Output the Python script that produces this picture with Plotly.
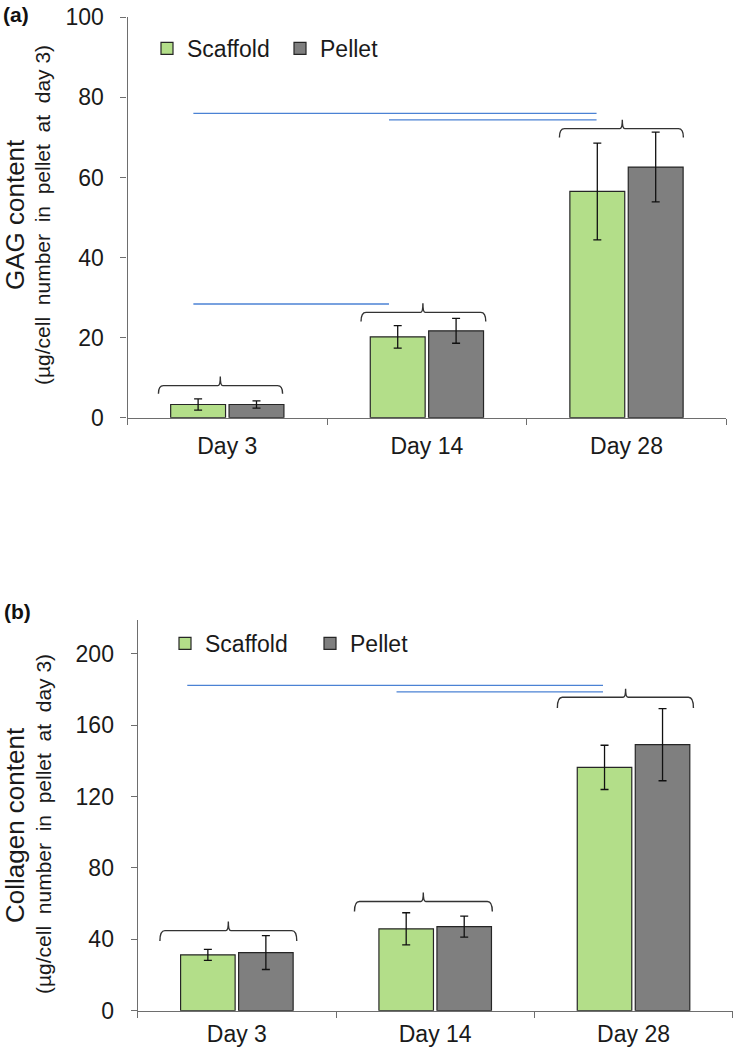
import plotly.graph_objects as go

# ---------------- data ----------------
days = ["Day 3", "Day 14", "Day 28"]
series_names = ["Scaffold", "Pellet"]

gag_scaffold = [3.3, 20.2, 56.5]
gag_scaffold_err = [1.4, 2.8, 12.1]
gag_pellet = [3.3, 21.7, 62.6]
gag_pellet_err = [0.9, 3.1, 8.7]

col_scaffold = [31.3, 45.9, 136.4]
col_scaffold_err = [3.1, 9.0, 12.4]
col_pellet = [32.6, 47.1, 149.1]
col_pellet_err = [9.5, 5.9, 20.2]

gag_ticks = [0, 20, 40, 60, 80, 100]
col_ticks = [0, 40, 80, 120, 160, 200]

# significance lines: (x from, x to) in category units, y level
gag_sig_x0 = [-0.17, 0.81, -0.17]
gag_sig_x1 = [1.85, 1.85, 0.81]
gag_sig_y = [76.0, 74.4, 28.4]
col_sig_x0 = [-0.25, 0.805]
col_sig_x1 = [1.846, 1.846]
col_sig_y = [182.4, 178.7]

# brackets: left, notch, right (category units), bar level, end level, notch top
gag_br_left = [-0.345, 0.67, 1.664]
gag_br_mid = [-0.035, 0.98, 1.979]
gag_br_right = [0.277, 1.295, 2.285]
gag_br_y = [8.0, 26.3, 72.2]
gag_br_end = [6.0, 24.0, 70.0]
gag_br_top = [10.3, 28.6, 74.4]

col_br_left = [-0.388, 0.593, 1.616]
col_br_mid = [-0.043, 0.94, 1.96]
col_br_right = [0.302, 1.288, 2.302]
col_br_y = [44.9, 61.2, 175.7]
col_br_end = [39.1, 55.6, 169.7]
col_br_top = [50.0, 66.2, 180.4]

GREEN = "#B3DE89"
GRAY = "#7F7F7F"
OUTLINE = "#262626"
BLUE = "#4B82D4"
AXIS = "#6E6E6E"
FONT = "Liberation Sans, Arial, sans-serif"

W, H = 734, 1050

fig = go.Figure()


def add_bars(vals, errs, name, color, xa, ya, legend, show):
    fig.add_trace(go.Bar(
        x=days, y=vals, name=name, xaxis=xa, yaxis=ya,
        marker=dict(color=color, line=dict(color=OUTLINE, width=1.2)),
        error_y=dict(type="data", array=errs, visible=True, color="#111111",
                     thickness=1.3, width=4),
        legend=legend, showlegend=show,
    ))


add_bars(gag_scaffold, gag_scaffold_err, series_names[0], GREEN, "x", "y", "legend", True)
add_bars(gag_pellet, gag_pellet_err, series_names[1], GRAY, "x", "y", "legend", True)
add_bars(col_scaffold, col_scaffold_err, series_names[0], GREEN, "x2", "y2", "legend2", True)
add_bars(col_pellet, col_pellet_err, series_names[1], GRAY, "x2", "y2", "legend2", True)

shapes = []


def sig_lines(x0s, x1s, ys, xref, yref):
    for a, b, y in zip(x0s, x1s, ys):
        shapes.append(dict(type="line", xref=xref, yref=yref, x0=a, x1=b, y0=y, y1=y,
                           line=dict(color=BLUE, width=1.3)))


def brackets(lefts, mids, rights, ys, ends, tops, xref, yref):
    for l, m, r, y, e, t in zip(lefts, mids, rights, ys, ends, tops):
        dx = 0.025
        dn = 0.012
        path = (f"M {l},{e} Q {l},{y} {l+dx},{y} L {m-dn},{y} Q {m},{y} {m},{t} "
                f"Q {m},{y} {m+dn},{y} L {r-dx},{y} Q {r},{y} {r},{e}")
        shapes.append(dict(type="path", xref=xref, yref=yref, path=path,
                           line=dict(color="#333333", width=1.4)))


sig_lines(gag_sig_x0, gag_sig_x1, gag_sig_y, "x", "y")
sig_lines(col_sig_x0, col_sig_x1, col_sig_y, "x2", "y2")
brackets(gag_br_left, gag_br_mid, gag_br_right, gag_br_y, gag_br_end, gag_br_top, "x", "y")
brackets(col_br_left, col_br_mid, col_br_right, col_br_y, col_br_end, col_br_top, "x2", "y2")

xa_common = dict(type="category", tickson="boundaries", ticks="outside", ticklen=6,
                 tickcolor=AXIS, showline=True, linecolor=AXIS, linewidth=1.3,
                 showgrid=False, zeroline=False, range=[-0.5, 2.5],
                 tickfont=dict(family=FONT, size=23, color="#1a1a1a"), automargin=False,
                 fixedrange=True)
ya_common = dict(ticks="outside", ticklen=6, tickcolor=AXIS, showline=True, linecolor=AXIS,
                 linewidth=1.3, showgrid=False, zeroline=False,
                 tickfont=dict(family=FONT, size=23, color="#1a1a1a"), automargin=False,
                 ticklabelstandoff=12, fixedrange=True)

ya_top = 1 - 17.3 / H
ya_bot = 1 - 417.7 / H
yb_top = 1 - 620 / H
yb_bot = 1 - 1010.7 / H

fig.update_layout(
    width=W, height=H,
    margin=dict(l=0, r=0, t=0, b=0),
    paper_bgcolor="white", plot_bgcolor="white",
    barmode="group", bargap=0.415, bargroupgap=0.06,
    font=dict(family=FONT, color="#1a1a1a"),
    xaxis=dict(xa_common, domain=[127.5 / W, 726.3 / W], anchor="y", ticklabelstandoff=8),
    yaxis=dict(ya_common, domain=[ya_bot, ya_top], anchor="x", range=[0, 100],
               tickvals=gag_ticks),
    xaxis2=dict(xa_common, domain=[137.7 / W, 732.7 / W], anchor="y2", ticklabelstandoff=3),
    yaxis2=dict(ya_common, domain=[yb_bot, yb_top], anchor="x2", range=[0, 219],
                tickvals=col_ticks),
    legend=dict(orientation="h", x=147 / W, y=1 - 27 / H, xanchor="left", yanchor="top",
                font=dict(family=FONT, size=23), bgcolor="rgba(0,0,0,0)",
                itemwidth=30, entrywidth=88, tracegroupgap=0),
    legend2=dict(orientation="h", x=165 / W, y=1 - 622 / H, xanchor="left", yanchor="top",
                 font=dict(family=FONT, size=23), bgcolor="rgba(0,0,0,0)",
                 itemwidth=30, entrywidth=100, tracegroupgap=0),
    shapes=shapes,
    annotations=[
        dict(text="<b>(a)</b>", x=1 / W, y=1 - 1 / H, xref="paper", yref="paper",
             xanchor="left", yanchor="top", showarrow=False,
             font=dict(family=FONT, size=21, color="#111")),
        dict(text="<b>(b)</b>", x=2 / W, y=1 - 598 / H, xref="paper", yref="paper",
             xanchor="left", yanchor="top", showarrow=False,
             font=dict(family=FONT, size=21, color="#111")),
        dict(text="GAG content", x=15 / W, y=1 - 215 / H, xref="paper", yref="paper",
             textangle=-90, showarrow=False, xanchor="center", yanchor="middle",
             font=dict(family=FONT, size=26, color="#1a1a1a")),
        dict(text="(µg/cell  number  in  pellet  at  day 3)", x=43 / W, y=1 - 215 / H,
             xref="paper", yref="paper", textangle=-90, showarrow=False,
             xanchor="center", yanchor="middle",
             font=dict(family=FONT, size=21, color="#1a1a1a")),
        dict(text="Collagen content", x=15 / W, y=1 - 825 / H, xref="paper", yref="paper",
             textangle=-90, showarrow=False, xanchor="center", yanchor="middle",
             font=dict(family=FONT, size=26, color="#1a1a1a")),
        dict(text="(µg/cell  number  in  pellet  at  day 3)", x=43 / W, y=1 - 824 / H,
             xref="paper", yref="paper", textangle=-90, showarrow=False,
             xanchor="center", yanchor="middle",
             font=dict(family=FONT, size=21, color="#1a1a1a")),
    ],
)

fig.write_html("out.html", config={"displayModeBar": False},
               post_script="document.body.style.margin='0px';")
